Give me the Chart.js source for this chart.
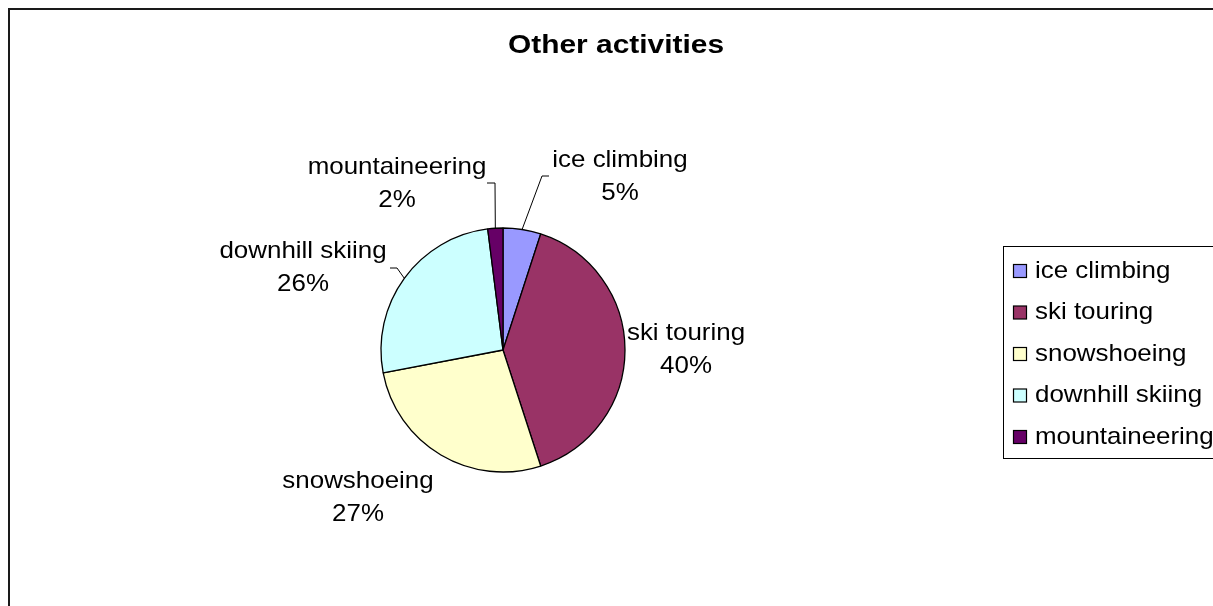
<!DOCTYPE html>
<html>
<head>
<meta charset="utf-8">
<title>Other activities</title>
<script src="https://cdn.jsdelivr.net/npm/chart.js@4.4.1/dist/chart.umd.min.js"></script>
<style>
    html, body { margin: 0; padding: 0; background: #fff; overflow: hidden; }
    #wrap { position: relative; width: 1213px; height: 606px; }
</style>
</head>
<body>
<div id="wrap"><canvas id="activities-pie" width="1213" height="606"></canvas></div>
<script>
// Share of other activities, in percent
const categories = ['ice climbing', 'ski touring', 'snowshoeing', 'downhill skiing', 'mountaineering'];
const shares = [5, 40, 27, 26, 2];
const chartTitle = 'Other activities';

const sliceColors = ['#9999FF', '#993366', '#FFFFCC', '#CCFFFF', '#660066'];
const FONT = '"Liberation Sans", Arial, sans-serif';

// Where each outside label sits, plus the elbow of its leader line (if any)
const labelSpots = [
    { x: 620, y: 160, leader: [[549, 176], [542, 176]] },
    { x: 686, y: 333, leader: null },
    { x: 358, y: 481, leader: null },
    { x: 303, y: 251, leader: [[390, 268], [397, 268]] },
    { x: 397, y: 167, leader: [[487, 183], [495, 183]] }
];

// Text drawn slightly wider than the font's natural width
function stretchedText(ctx, text, x, y, sx, align) {
    ctx.save();
    ctx.translate(x, y);
    ctx.scale(sx, 1);
    ctx.textAlign = align || 'center';
    ctx.textBaseline = 'middle';
    ctx.fillText(text, 0, 0);
    ctx.restore();
}

const framePlugin = {
    id: 'frame',
    beforeDraw(chart) {
        const ctx = chart.ctx;
        ctx.save();
        ctx.fillStyle = '#fff';
        ctx.fillRect(0, 0, chart.width, chart.height);
        ctx.strokeStyle = '#1a1a1a';
        ctx.lineWidth = 2;
        ctx.beginPath();
        ctx.moveTo(9, chart.height + 5);
        ctx.lineTo(9, 9);
        ctx.lineTo(chart.width + 5, 9);
        ctx.stroke();

        ctx.fillStyle = '#000';
        ctx.font = 'bold 26px ' + FONT;
        stretchedText(ctx, chartTitle, 616, 46, 1.15);
        ctx.restore();
    }
};

const sliceLabelPlugin = {
    id: 'sliceLabels',
    afterDatasetsDraw(chart) {
        const ctx = chart.ctx;
        const meta = chart.getDatasetMeta(0);
        const data = chart.data.datasets[0].data;
        const total = data.reduce((a, b) => a + b, 0);
        ctx.save();
        meta.data.forEach(function (arc, i) {
            const p = arc.getProps(['x', 'y', 'startAngle', 'endAngle', 'outerRadius'], true);
            const mid = (p.startAngle + p.endAngle) / 2;
            const spot = labelSpots[i];
            if (spot.leader) {
                ctx.strokeStyle = '#000';
                ctx.lineWidth = 1;
                ctx.beginPath();
                ctx.moveTo(spot.leader[0][0], spot.leader[0][1]);
                for (let k = 1; k < spot.leader.length; k++) {
                    ctx.lineTo(spot.leader[k][0], spot.leader[k][1]);
                }
                ctx.lineTo(p.x + Math.cos(mid) * p.outerRadius, p.y + Math.sin(mid) * p.outerRadius);
                ctx.stroke();
            }
            ctx.fillStyle = '#000';
            ctx.font = '24px ' + FONT;
            stretchedText(ctx, chart.data.labels[i], spot.x, spot.y, 1.08);
            const pct = Math.round(data[i] / total * 100) + '%';
            stretchedText(ctx, pct, spot.x, spot.y + 33, 1.08);
        });
        ctx.restore();
    }
};

const legendBoxPlugin = {
    id: 'legendBox',
    afterDraw(chart) {
        const ctx = chart.ctx;
        const ds = chart.data.datasets[0];
        const left = 1003, top = 246, rowH = 41.5;
        ctx.save();
        ctx.fillStyle = '#fff';
        ctx.strokeStyle = '#000';
        ctx.lineWidth = 1;
        ctx.fillRect(left, top, chart.width, 212);
        ctx.strokeRect(left + 0.5, top + 0.5, chart.width, 212);
        chart.data.labels.forEach(function (label, i) {
            const cy = top + 25 + i * rowH;
            ctx.fillStyle = ds.backgroundColor[i];
            ctx.fillRect(1013.5, cy - 6.5, 13, 13);
            ctx.strokeStyle = '#000';
            ctx.lineWidth = 1.2;
            ctx.strokeRect(1013.5, cy - 6.5, 13, 13);
            ctx.fillStyle = '#000';
            ctx.font = '24px ' + FONT;
            stretchedText(ctx, label, 1035, cy, 1.08, 'left');
        });
        ctx.restore();
    }
};

new Chart(document.getElementById('activities-pie'), {
    type: 'pie',
    data: {
        labels: categories,
        datasets: [{
            data: shares,
            backgroundColor: sliceColors,
            borderColor: '#000',
            borderWidth: 1.3,
            hoverOffset: 0
        }]
    },
    options: {
        responsive: false,
        animation: false,
        radius: 122,
        layout: {
            padding: { left: 300, right: 507, top: 200, bottom: 106 }
        },
        events: [],
        plugins: {
            legend: { display: false },
            title: { display: false },
            tooltip: { enabled: false }
        }
    },
    plugins: [framePlugin, sliceLabelPlugin, legendBoxPlugin]
});
</script>
</body>
</html>
